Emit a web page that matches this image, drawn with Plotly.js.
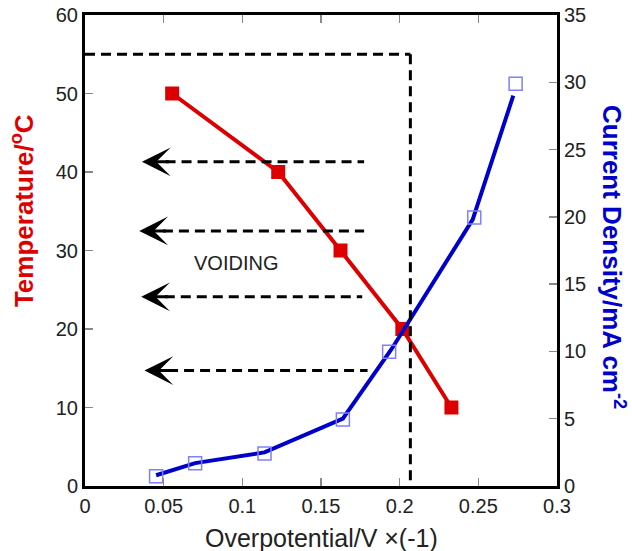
<!DOCTYPE html>
<html>
<head>
<meta charset="utf-8">
<script src="https://cdn.plot.ly/plotly-3.0.1.min.js"></script>
<style>html,body{margin:0;padding:0;background:#fff;}#chart{width:632px;height:551px;}</style>
</head>
<body>
<div id="chart"></div>
<script>
// Temperature series (left axis)
const tempX = [0.0554, 0.1228, 0.1624, 0.2017, 0.2329];
const tempY = [50, 40, 30, 20, 10];
// Current density markers (right axis)
const curX = [0.0452, 0.0700, 0.1141, 0.1639, 0.1933, 0.2474, 0.2737];
const curY = [0.73, 1.69, 2.42, 4.95, 9.98, 19.96, 29.9];
// Current density curve (right axis)
const curLineX = [0.0452, 0.0700, 0.1141, 0.1639, 0.1950, 0.2464, 0.2722];
const curLineY = [0.80, 1.70, 2.50, 5.00, 10.2, 19.8, 29.0];
// Dashed boundary (left-axis units)
const boxY = 55;
const boxX = 0.2068;
// Arrows (left-axis units)
const arrowTipX = [0.0362, 0.0345, 0.0357, 0.0378];
const arrowTailX = [0.1774, 0.1774, 0.1762, 0.1796];
const arrowY = [41.3, 32.5, 24.1, 14.7];
// Labels
const labelText = "VOIDING";
const labelX = 0.0957, labelY = 28.4;
const xTickVals = [0, 0.05, 0.1, 0.15, 0.2, 0.25, 0.3];
const xTickText = ["0", "0.05", "0.1", "0.15", "0.2", "0.25", "0.3"];
const yTickVals = [0, 10, 20, 30, 40, 50, 60];
const y2TickVals = [0, 5, 10, 15, 20, 25, 30, 35];

const FONT = "Liberation Sans, Arial, sans-serif";
const headLen = 0.015;

const shapes = [
  {type:'line', xref:'x', yref:'y', x0:0, x1:boxX, y0:boxY, y1:boxY,
   line:{color:'#000', width:3, dash:'10px,6px'}, layer:'above'},
  {type:'line', xref:'x', yref:'y', x0:boxX, x1:boxX, y0:boxY, y1:0,
   line:{color:'#000', width:3, dash:'10px,6px'}, layer:'above'}
];
const annotations = [];
for (let i = 0; i < arrowY.length; i++) {
  shapes.push({type:'line', xref:'x', yref:'y', x0:arrowTipX[i] + headLen, x1:arrowTailX[i],
    y0:arrowY[i], y1:arrowY[i], line:{color:'#000', width:3, dash:'10px,6px'}, layer:'above'});
  annotations.push({x:arrowTipX[i], y:arrowY[i], xref:'x', yref:'y',
    ax:arrowTipX[i] + headLen + 0.003, ay:arrowY[i], axref:'x', ayref:'y',
    showarrow:true, arrowhead:3, arrowsize:1.6, arrowwidth:3, arrowcolor:'#000', text:''});
}
annotations.push({x:labelX, y:labelY, xref:'x', yref:'y', text:labelText, showarrow:false,
  font:{family:FONT, size:20, color:'#222'}});
annotations.push({x:0.5, y:-0.110, xref:'paper', yref:'paper', xanchor:'center', yanchor:'middle',
  text:'Overpotential/V ×(-1)', showarrow:false, font:{family:FONT, size:25, color:'#222'}});
annotations.push({x:-0.131, y:0.584, xref:'paper', yref:'paper', xanchor:'center', yanchor:'middle',
  text:'Temperature/<sup>o</sup>C', textangle:-90, showarrow:false,
  font:{family:FONT, size:26, color:'#dd0000', weight:'bold'}});
annotations.push({x:1.121, y:0.486, xref:'paper', yref:'paper', xanchor:'center', yanchor:'middle',
  text:'Current Density/mA cm<sup>-2</sup>', textangle:90, showarrow:false,
  font:{family:FONT, size:26, color:'#0000cc', weight:'bold'}});

const traces = [
  {x:curLineX, y:curLineY, yaxis:'y2', mode:'lines', line:{color:'#0000cc', width:4}, hoverinfo:'skip'},
  {x:curX, y:curY, yaxis:'y2', mode:'markers',
   marker:{symbol:'square-open', size:13, color:'#7f7fff', line:{width:1.5, color:'#7f7fff'}}},
  {x:tempX, y:tempY, yaxis:'y', mode:'lines+markers', line:{color:'#dd0000', width:4},
   marker:{symbol:'square', size:14, color:'#dd0000'}}
];

const layout = {
  width:632, height:551,
  margin:{l:85, r:75, t:15, b:65},
  paper_bgcolor:'#fff', plot_bgcolor:'#fff',
  showlegend:false,
  font:{family:FONT, size:20, color:'#222'},
  xaxis:{range:[0,0.3], tickvals:xTickVals, ticktext:xTickText, showgrid:false, zeroline:false,
    showline:true, linecolor:'#000', linewidth:3, mirror:'ticks',
    ticks:'inside', ticklen:8, tickwidth:1.5, tickcolor:'#888',
    tickfont:{family:FONT, size:20, color:'#222'}},
  yaxis:{range:[0,60], tickvals:yTickVals, showgrid:false, zeroline:false,
    showline:true, linecolor:'#000', linewidth:3,
    ticks:'inside', ticklen:8, tickwidth:1.5, tickcolor:'#888',
    tickfont:{family:FONT, size:20, color:'#222'}},
  yaxis2:{range:[0,35], tickvals:y2TickVals, overlaying:'y', side:'right', showgrid:false, zeroline:false,
    showline:true, linecolor:'#000', linewidth:3,
    ticks:'inside', ticklen:8, tickwidth:1.5, tickcolor:'#888',
    tickfont:{family:FONT, size:20, color:'#222'}},
  shapes:shapes,
  annotations:annotations
};

Plotly.newPlot('chart', traces, layout, {staticPlot:true, displayModeBar:false});
</script>
</body>
</html>
